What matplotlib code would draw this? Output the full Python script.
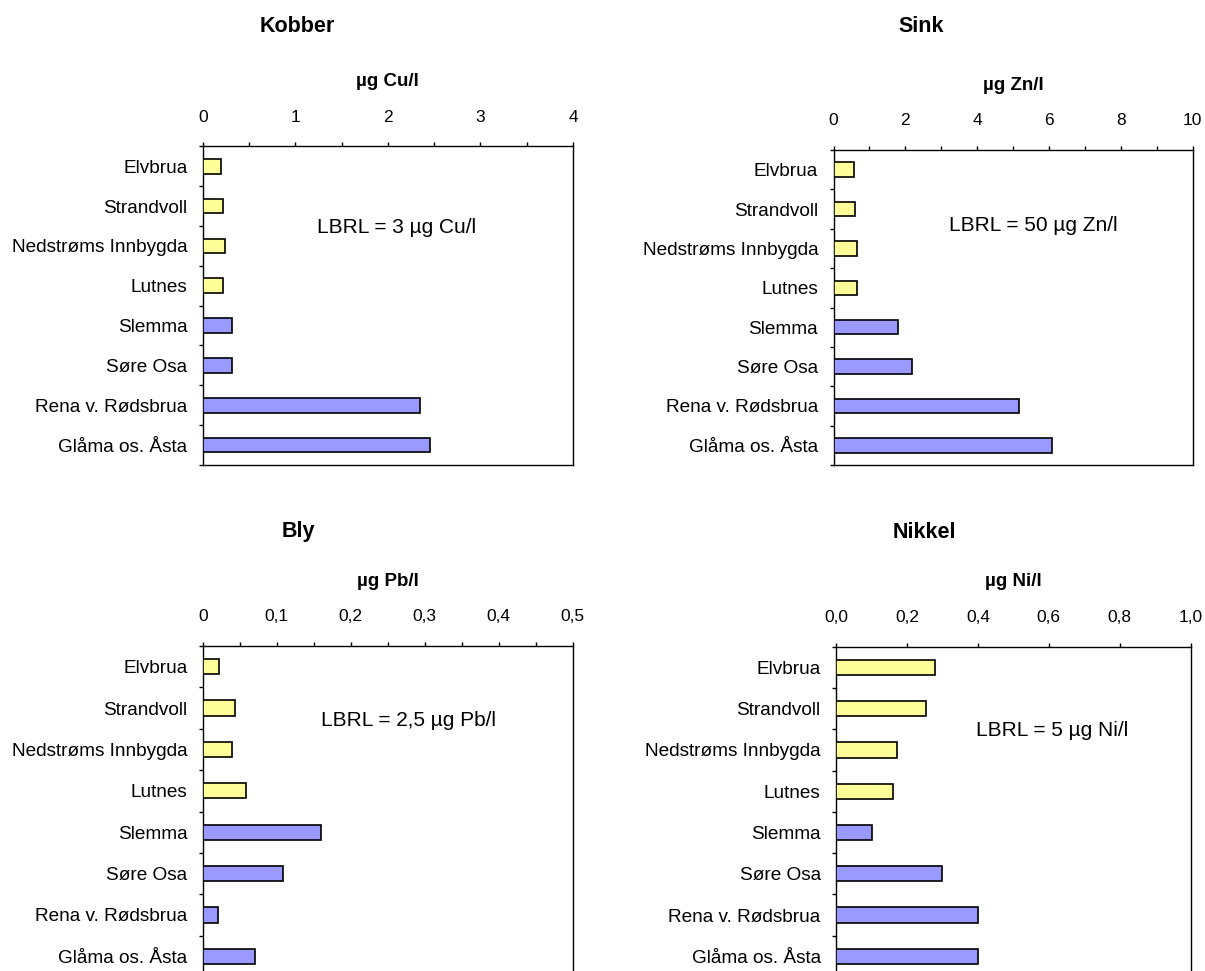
import matplotlib
matplotlib.use("Agg")
import matplotlib.pyplot as plt
import numpy as np

# ===== Data =====
STATIONS = ["Elvbrua", "Strandvoll", "Nedstrøms Innbygda", "Lutnes",
            "Slemma", "Søre Osa", "Rena v. Rødsbrua", "Glåma os. Åsta"]

KOBBER = [0.20, 0.22, 0.24, 0.22, 0.32, 0.32, 2.35, 2.45]
SINK = [0.56, 0.60, 0.65, 0.65, 1.80, 2.19, 5.17, 6.08]
BLY = [0.022, 0.044, 0.039, 0.058, 0.160, 0.109, 0.020, 0.071]
NIKKEL = [0.28, 0.254, 0.173, 0.162, 0.102, 0.30, 0.40, 0.40]

KOBBER_TICKS = [0, 1, 2, 3, 4]
SINK_TICKS = [0, 2, 4, 6, 8, 10]
BLY_TICKS = [0, 0.1, 0.2, 0.3, 0.4, 0.5]
NIKKEL_TICKS = [0.0, 0.2, 0.4, 0.6, 0.8, 1.0]

KOBBER_LABELS = ["0", "1", "2", "3", "4"]
SINK_LABELS = ["0", "2", "4", "6", "8", "10"]
BLY_LABELS = ["0", "0,1", "0,2", "0,3", "0,4", "0,5"]
NIKKEL_LABELS = ["0,0", "0,2", "0,4", "0,6", "0,8", "1,0"]

# ===== Style / layout =====
W, H = 1205, 971
DPI = 100
YELLOW = "#FFFF99"
BLUE = "#9999FF"
BAR_COLORS = [YELLOW] * 4 + [BLUE] * 4
FONT = "Liberation Sans"


def px_rect(left, top, right, bottom):
    # pixel box -> figure fraction rect
    return [left / W, 1 - bottom / H, (right - left) / W, (bottom - top) / H]


def draw_panel(fig, rect, values, ticks, labels, minor_step, unit, lbrl,
               lbrl_pos, title, title_xy):
    ax = fig.add_axes(rect)
    y = np.arange(len(STATIONS))
    ax.barh(y, values, height=0.37, color=BAR_COLORS, edgecolor="black",
            linewidth=1.2, zorder=3)

    ax.set_ylim(len(STATIONS) - 0.5, -0.5)
    ax.set_yticks(y)
    ax.set_yticklabels(STATIONS, fontsize=13.7, family=FONT)
    ax.set_yticks(np.arange(-0.5, len(STATIONS), 1.0), minor=True)
    ax.tick_params(axis="y", which="major", length=0, pad=11)
    ax.tick_params(axis="y", which="minor", length=3, width=1.0,
                   direction="out")

    ax.set_xlim(ticks[0], ticks[-1])
    ax.xaxis.tick_top()
    ax.set_xticks(ticks)
    ax.set_xticklabels(labels, fontsize=12.5, family=FONT)
    if minor_step:
        ax.set_xticks(np.arange(ticks[0], ticks[-1] + 1e-9, minor_step),
                      minor=True)
    ax.tick_params(axis="x", which="both", length=2.6, width=1.0,
                   direction="out", pad=13)
    ax.xaxis.set_label_position("top")
    ax.set_xlabel(unit, fontsize=13.5, fontweight="bold", family=FONT,
                  labelpad=17)

    for s in ax.spines.values():
        s.set_linewidth(1.0)
        s.set_color("black")

    ax.text(lbrl_pos[0], lbrl_pos[1], lbrl, transform=ax.transAxes,
            ha="center", va="center", fontsize=15, family=FONT)

    fig.text(title_xy[0] / W, 1 - title_xy[1] / H, title, ha="center",
             va="center", fontsize=15.5, fontweight="bold", family=FONT)
    return ax


def main():
    fig = plt.figure(figsize=(W / DPI, H / DPI), dpi=DPI)

    draw_panel(fig, px_rect(202.7, 146.3, 573, 465), KOBBER, KOBBER_TICKS,
               KOBBER_LABELS, 0.5, "µg Cu/l", "LBRL = 3 µg Cu/l",
               (0.523, 0.745), "Kobber", (297, 27))
    draw_panel(fig, px_rect(833.5, 150, 1192.7, 465), SINK, SINK_TICKS,
               SINK_LABELS, 1, "µg Zn/l", "LBRL = 50 µg Zn/l",
               (0.556, 0.76), "Sink", (921, 27))
    draw_panel(fig, px_rect(202.7, 646, 572.7, 977), BLY, BLY_TICKS,
               BLY_LABELS, 0.05, "µg Pb/l", "LBRL = 2,5 µg Pb/l",
               (0.557, 0.775), "Bly", (298, 532))
    draw_panel(fig, px_rect(836, 646.7, 1190.7, 977), NIKKEL, NIKKEL_TICKS,
               NIKKEL_LABELS, None, "µg Ni/l", "LBRL = 5 µg Ni/l",
               (0.61, 0.745), "Nikkel", (924, 532))

    fig.savefig("out.png", dpi=DPI)


if __name__ == "__main__":
    main()
